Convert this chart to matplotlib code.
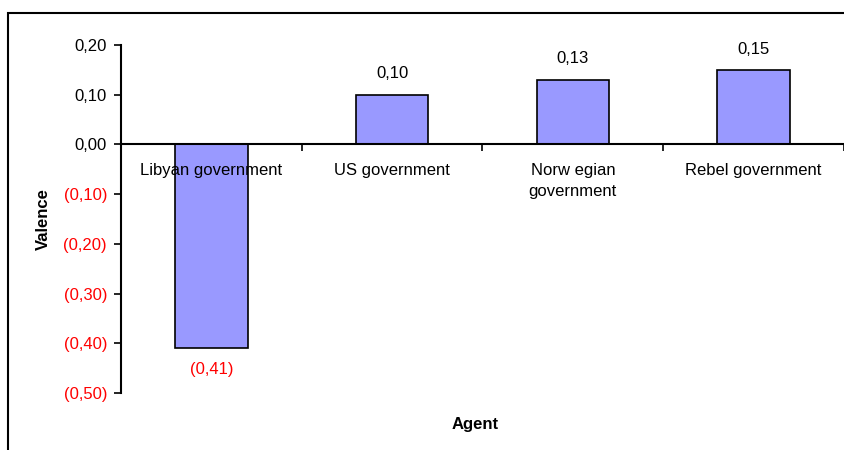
import numpy as np
import matplotlib.pyplot as plt
from matplotlib.patches import Rectangle

plt.rcParams['font.family'] = ['Liberation Sans', 'DejaVu Sans']

# data
agents = ["Libyan government", "US government", "Norw egian\ngovernment", "Rebel government"]
valence = [-0.41, 0.10, 0.13, 0.15]
yticks = [0.20, 0.10, 0.00, -0.10, -0.20, -0.30, -0.40, -0.50]


def fmt(v):
    s = "%.2f" % abs(v)
    s = s.replace(".", ",")
    if v < -1e-9:
        return "(" + s + ")"
    return s


fig = plt.figure(figsize=(8.45, 4.5), dpi=100)
# outer chart frame (only left/top edges fall inside the picture)
fig.patches.append(Rectangle((8 / 845, -0.2), 1.2, 1.2 - 13 / 450,
                             transform=fig.transFigure, fill=False,
                             edgecolor='black', linewidth=1.5))

ax = fig.add_axes([121 / 845, 1 - 393 / 450, (844 - 121) / 845, (393 - 45) / 450])

x = np.arange(len(agents)) + 0.5
# bars under the axis so the category labels stay readable
ax.bar(x, valence, width=0.4, color='#9999FF', edgecolor='black', linewidth=1.2, zorder=1)

for xi, v in zip(x, valence):
    col = 'red' if v < 0 else 'black'
    off = -15 if v < 0 else 15
    ax.annotate(fmt(v), (xi, v), xytext=(0, off), textcoords='offset points',
                ha='center', va='center', fontsize=12, color=col)

ax.set_xlim(0, len(agents))
ax.set_ylim(-0.5, 0.2)

ax.spines['top'].set_visible(False)
ax.spines['right'].set_visible(False)
ax.spines['bottom'].set_position(('data', 0))
ax.spines['left'].set_linewidth(1.5)
ax.spines['bottom'].set_linewidth(1.5)

ax.set_yticks(yticks)
ax.set_yticklabels([fmt(v) for v in yticks], fontsize=12)
for lab, v in zip(ax.get_yticklabels(), yticks):
    if v < -1e-9:
        lab.set_color('red')
ax.tick_params(axis='y', direction='out', length=5, width=1.2, pad=5)

ax.set_xticks(np.arange(len(agents) + 1))
ax.set_xticklabels([])
ax.tick_params(axis='x', which='major', direction='out', length=5, width=1.2)
ax.set_xticks(x, minor=True)
ax.set_xticklabels(agents, minor=True, fontsize=12, va='top', linespacing=1.5)
ax.tick_params(axis='x', which='minor', length=0, pad=13.5)

ax.set_ylabel("Valence", fontsize=12, fontweight='bold', labelpad=9)
fig.text(475 / 845, 1 - 425 / 450, "Agent", fontsize=12, fontweight='bold',
         ha='center', va='center')

fig.savefig("out.png", dpi=100)
